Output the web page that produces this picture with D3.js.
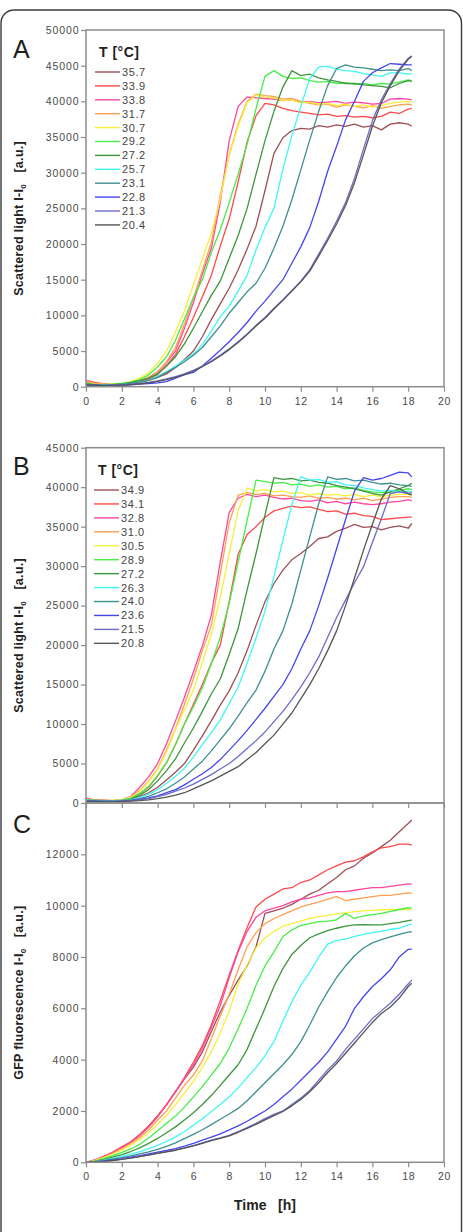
<!DOCTYPE html>
<html><head><meta charset="utf-8">
<script src="https://cdn.jsdelivr.net/npm/d3@7"></script>
<style>
body{margin:0;background:#fff;}
svg{display:block;}
text{font-family:Arial,"Liberation Sans",sans-serif;}
</style>
</head><body>
<svg id="chart" width="463" height="1232"></svg>
<script>
// ---------- DATA ----------
const time = [0,0.5,1,1.5,2,2.5,3,3.5,4,4.5,5,5.5,6,6.5,7,7.5,8,8.5,9,9.5,10,10.5,11,11.5,12,12.5,13,13.5,14,14.5,15,15.5,16,16.5,17,17.5,18,18.2];
const xTicks = [0,2,4,6,8,10,12,14,16,18,20];

// Panel A: scattered light
const tempsA = ["35.7","33.9","33.8","31.7","30.7","29.2","27.2","25.7","23.1","22.8","21.3","20.4"];
const yTicksA = [0,5000,10000,15000,20000,25000,30000,35000,40000,45000,50000];
const a357 = [300,250,200,250,300,450,650,900,1300,1800,2700,3800,5000,7000,9400,11600,13800,16400,19300,22500,27500,32700,34900,35900,36200,36100,36600,36400,36700,36500,36800,36400,36600,36000,36800,37000,36800,36500];
const a339 = [900,600,400,300,350,500,750,1100,1700,3000,4500,7000,9700,12600,15600,19700,23500,28700,34300,38000,39700,39500,39000,38700,38500,38300,38100,38200,37900,38000,37800,37900,37700,37900,38500,38300,38900,39000];
const a338 = [600,400,350,300,400,550,800,1300,2100,3400,5000,8200,11800,15800,19400,25800,34500,39300,40600,40500,40400,40300,40100,40200,39900,40000,39800,39900,40000,39700,39900,39800,39600,39700,40300,40400,40300,40200];
const a317 = [800,500,400,350,400,550,800,1300,2000,3500,5500,8800,12400,16300,20200,26800,32500,36800,40000,41000,40800,40700,40300,40400,40000,39700,39500,39600,39200,39500,39300,39100,39400,39000,39300,39500,39600,39500];
const a307 = [500,350,300,400,450,700,1200,1950,3300,5000,7700,10600,14300,17900,21500,26300,32400,36500,39800,40900,40600,40500,40100,40200,39800,39900,39600,39700,39400,39600,39300,39500,39200,39400,39700,39900,40000,39900];
const a292 = [500,300,300,350,450,650,1000,1650,2800,4200,6500,9500,12500,15000,18800,22000,25800,29800,34000,39000,43500,44300,43500,43200,43300,42900,42700,42800,42500,42600,42400,42500,42300,42500,42400,42700,43000,42900];
const a272 = [400,300,250,300,400,600,850,1200,1800,2900,4200,6000,8200,10500,12800,14800,18000,21200,25000,29800,34500,38600,42000,44300,43600,43800,43300,43000,42800,42500,42500,42300,42200,42100,41900,42500,42900,42800];
const a257 = [300,250,200,250,300,450,650,900,1500,2100,2900,3700,4600,5900,7800,9800,11300,13400,15600,19200,22300,25000,30500,35200,39300,43200,44800,44900,44500,44300,44200,43900,43700,43500,44000,44000,43800,43900];
const a231 = [300,250,200,250,300,450,650,900,1300,2000,2700,3500,4400,5500,7000,8500,10300,11800,13300,14500,16600,19400,22500,26200,30400,34600,38600,42200,44600,45100,44800,44700,44500,44300,44400,44300,44600,44300];
const a228 = [300,200,150,200,200,250,350,450,550,700,1200,1700,2000,2900,4000,5100,6300,7600,9000,10600,12000,13500,15000,17300,19600,22300,26000,30200,33700,37400,40000,42800,44000,44700,45300,45200,45100,45100];
const a213 = [200,150,150,200,250,350,450,600,800,1100,1400,1800,2300,2900,3600,4400,5300,6300,7400,8600,9700,11000,12200,13500,14800,16400,18600,20800,23200,25800,29200,33300,37300,40200,42500,44500,46000,46400];
const a204 = [250,200,150,150,200,300,400,550,750,1000,1300,1700,2200,2800,3500,4300,5200,6200,7300,8500,9600,10900,12100,13400,14700,16200,18300,20500,22800,25400,28600,32500,36500,39800,42200,44300,45900,46300];
const seriesA = [a357,a339,a338,a317,a307,a292,a272,a257,a231,a228,a213,a204];

// Panel B: scattered light
const tempsB = ["34.9","34.1","32.8","31.0","30.5","28.9","27.2","26.3","24.0","23.6","21.5","20.8"];
const yTicksB = [0,5000,10000,15000,20000,25000,30000,35000,40000,45000];
const b349 = [300,250,250,200,300,450,800,1300,2000,2900,3900,5000,6700,8500,10400,12400,14200,16500,19300,22500,25500,27800,29500,30800,31600,32500,33500,33700,34400,34800,35300,34900,35000,34600,34900,35100,34800,35400];
const b341 = [600,400,300,300,350,600,1200,2000,3400,5100,7400,10000,12500,15000,17700,20000,25500,31500,34000,35000,36200,37000,37300,37600,37400,37500,37200,36900,37000,36600,36700,36400,36300,35900,36000,36100,36200,36200];
const b328 = [300,400,350,300,400,800,2000,3300,5000,7500,10400,13400,16600,19900,23800,30500,36800,38600,39100,38800,39000,38700,38500,38600,38300,38200,38400,38000,38200,37900,38100,37900,37800,37900,38100,38200,38400,38300];
const b310 = [500,400,350,300,350,700,1600,2800,4300,6700,9400,12500,15700,19300,22500,29000,35500,39000,39300,39100,39200,38900,39000,38800,38700,38900,38600,38700,38500,38600,38400,38600,38300,38500,38700,38800,38800,38700];
const b305 = [400,300,300,350,400,700,1500,2700,4200,6500,9300,11800,14300,17800,21400,26000,31600,37000,39900,39500,39700,39400,39500,39200,39300,39000,39200,39000,39100,38900,39100,38800,39000,38800,39000,39100,39100,39000];
const b289 = [400,350,300,300,350,600,1200,2100,3500,5100,7400,10000,12200,14600,17600,21000,25300,30500,35800,40900,40700,40500,40600,40300,40400,40100,40300,40000,40100,39800,39900,39600,39400,39300,39400,39600,39800,39700];
const b272 = [400,300,300,250,300,500,1000,1700,2800,4100,5600,7600,9500,11600,13800,15700,18800,22100,27000,31600,36500,41200,41000,41100,40800,40900,40600,40500,40200,40000,39800,39500,39200,39000,39400,39800,40200,40500];
const b263 = [400,300,250,250,300,400,700,1100,1700,2500,3400,4400,5800,7400,8900,10500,12600,14700,17700,20900,24300,28700,33300,37800,41300,40900,41000,40600,40700,40300,40200,39900,39700,39500,39600,39400,39500,39400];
const b240 = [300,250,250,200,250,350,550,850,1300,1800,2500,3300,4300,5300,6600,8000,9400,11000,12700,14300,16700,19500,21800,25200,29500,33700,37900,41300,41000,41100,40800,40900,40600,40400,40500,40300,40200,40100];
const b236 = [300,250,200,200,250,300,450,650,900,1300,1700,2300,3000,3700,4500,5500,6700,7900,9200,10600,12000,13500,15000,17000,19500,21800,25000,28500,32200,35900,39500,41200,40900,41100,41500,41900,41800,41300];
const b215 = [300,200,200,200,250,300,400,550,800,1100,1500,1900,2400,3000,3600,4300,5000,5900,6900,7900,9000,10300,11600,13100,14700,16500,18500,21000,23500,25700,27900,29900,33000,36000,39200,39400,39200,39300];
const b208 = [200,200,150,150,200,250,300,400,550,750,1000,1300,1800,2300,2800,3400,4000,4600,5500,6400,7500,8600,10000,11400,13200,15000,17000,19300,21800,25000,28500,32000,35300,38500,40200,39800,39200,39000];
const seriesB = [b349,b341,b328,b310,b305,b289,b272,b263,b240,b236,b215,b208];

// Panel C: GFP fluorescence (same cultures as B)
const yTicksC = [0,2000,4000,6000,8000,10000,12000];
const c349 = [0,80,220,380,570,780,1050,1380,1780,2250,2750,3250,3700,4300,5100,5850,6500,7100,7650,8400,9700,9800,9900,10050,10250,10450,10600,10850,11100,11400,11550,11850,12050,12300,12550,12880,13200,13340];
const c341 = [0,90,230,400,600,800,1080,1420,1820,2250,2750,3300,3900,4550,5350,6300,7300,8250,9150,9950,10250,10450,10650,10700,10900,11000,11200,11400,11550,11700,11750,11900,12100,12250,12300,12400,12400,12360];
const c328 = [0,85,220,390,580,790,1050,1380,1780,2250,2750,3250,3800,4450,5250,6100,7200,8200,9000,9550,9800,9900,10000,10150,10250,10300,10400,10500,10550,10550,10600,10650,10700,10700,10750,10800,10850,10830];
const c310 = [0,75,200,350,530,730,960,1270,1650,2000,2500,3000,3400,3950,4800,5700,6550,7500,8400,8950,9300,9500,9650,9800,9950,10050,10150,10250,10350,10200,10250,10300,10350,10400,10400,10450,10500,10480];
const c305 = [0,65,180,320,480,670,890,1150,1480,1830,2250,2700,3150,3700,4300,5050,5900,6950,7700,8350,8750,9000,9200,9300,9400,9500,9570,9620,9680,9720,9770,9800,9820,9840,9850,9850,9860,9850];
const c289 = [0,50,140,260,390,520,700,950,1230,1520,1800,2150,2550,2950,3400,3850,4450,5200,6000,6900,7650,8200,8800,9050,9230,9300,9380,9400,9450,9700,9500,9600,9650,9700,9780,9850,9920,9900];
const c272 = [0,40,110,200,300,420,560,740,930,1150,1380,1650,1930,2250,2600,3000,3400,3800,4400,5200,6000,6850,7550,8100,8450,8750,8900,9030,9120,9200,9250,9260,9250,9250,9300,9350,9420,9440];
const c263 = [0,30,80,150,230,320,420,530,660,810,990,1200,1440,1700,1980,2250,2550,2900,3300,3700,4150,4700,5500,6250,6900,7400,8000,8500,8650,8700,8800,8880,8950,9000,9080,9120,9250,9280];
const c240 = [0,25,65,120,180,250,330,410,500,620,760,920,1090,1270,1470,1680,1880,2100,2400,2750,3100,3450,3800,4200,4700,5350,6050,6650,7200,7650,8050,8350,8550,8680,8780,8880,8970,8990];
const c236 = [0,20,50,90,140,200,260,330,400,460,530,630,740,860,980,1110,1260,1420,1600,1800,2000,2250,2550,2850,3200,3550,3900,4300,4800,5300,6000,6450,6850,7150,7500,8000,8300,8310];
const c215 = [0,15,40,75,120,170,230,290,360,420,480,560,650,760,860,950,1050,1200,1350,1520,1700,1870,2000,2250,2500,2800,3200,3600,3950,4400,4800,5200,5600,5900,6200,6550,6950,7100];
const c208 = [0,15,35,70,110,160,220,280,350,410,470,550,640,740,840,930,1030,1170,1320,1480,1650,1820,1980,2200,2450,2750,3100,3500,3850,4250,4650,5050,5450,5800,6050,6400,6850,6975];
const seriesC = [c349,c341,c328,c310,c305,c289,c272,c263,c240,c236,c215,c208];

// ---------- STYLE ----------
const colors = ["#a04e55","#ff4848","#ff45a0","#ffa050","#f6f03c","#46ee46","#3c963c","#40f6f6","#3f8f8f","#4545f0","#6b6bcc","#555555"];
const ink = "#333";
const tickInk = "#4a4a4a";
const boxInk = "#8c8c8c";

const svg = d3.select("#chart");
const x = d3.scaleLinear().domain([0,20]).range([86,444]);

// outer rounded frame
svg.append("rect").attr("x",1).attr("y",10).attr("width",460.5).attr("height",1240)
  .attr("rx",13).attr("fill","none").attr("stroke","#3a3a3a").attr("stroke-width",1.4);

function panel(cfg){
  const y = d3.scaleLinear().domain([0,cfg.yMax]).range([cfg.bottom,cfg.top]);
  const g = svg.append("g");
  // y axis
  const ya = g.append("g").attr("transform","translate(86,0)")
    .call(d3.axisLeft(y).tickValues(cfg.yTicks).tickSize(5).tickPadding(1.5).tickFormat(d3.format("d")));
  ya.select(".domain").remove();
  ya.selectAll("line").attr("stroke",boxInk).attr("stroke-width",1.2);
  ya.selectAll("text").attr("fill",tickInk).style("font-size","10.5px").style("letter-spacing","0.9px");
  // x axis
  const xa = g.append("g").attr("transform",`translate(0,${cfg.bottom})`)
    .call(d3.axisBottom(x).tickValues(xTicks).tickSize(5).tickPadding(cfg.xPad)
      .tickFormat(cfg.xLabels ? d3.format("d") : ""));
  xa.select(".domain").remove();
  xa.selectAll("line").attr("stroke",boxInk).attr("stroke-width",1.2);
  xa.selectAll("text").attr("fill",tickInk).style("font-size","10.5px").style("letter-spacing","0.6px");

  // lines
  const line = d3.line().x((d,i)=>x(time[i])).y(d=>y(d));
  cfg.series.forEach((s,i)=>{
    g.append("path").datum(s).attr("d",line).attr("fill","none")
      .attr("stroke",colors[i]).attr("stroke-width",1.3).attr("stroke-linejoin","round");
  });
  // box
  g.append("rect").attr("x",86).attr("y",cfg.top).attr("width",358).attr("height",cfg.bottom-cfg.top)
    .attr("fill","none").attr("stroke",boxInk).attr("stroke-width",1.5);

  // legend
  if(cfg.temps){
    g.append("text").attr("x",cfg.legX).attr("y",cfg.legTitleY).text("T [°C]")
      .attr("fill","#222").style("font-size","14px").style("font-weight","bold").style("letter-spacing","0.5px");
    cfg.temps.forEach((t,i)=>{
      const yy = cfg.legY0 + i*cfg.legDy;
      g.append("line").attr("x1",cfg.legX-4).attr("x2",cfg.legX+21).attr("y1",yy).attr("y2",yy)
        .attr("stroke",colors[i]).attr("stroke-width",1.4);
      g.append("text").attr("x",cfg.legX+23).attr("y",yy).attr("dy","0.36em").text(t)
        .attr("fill","#444").style("font-size","11px").style("letter-spacing","0.6px");
    });
  }
  // panel letter
  svg.append("text").attr("x",13).attr("y",cfg.letterY).text(cfg.letter)
    .attr("fill","#1e1e1e").style("font-size","25px");
  // y label
  const cy = (cfg.top+cfg.bottom)/2 + 10;
  const yl = svg.append("text").attr("transform",`translate(23,${cy}) rotate(-90)`)
    .attr("text-anchor","middle").attr("fill","#222")
    .style("font-size","12.5px").style("font-weight","bold").style("letter-spacing","0.3px");
  yl.append("tspan").text(cfg.ylabel + " I-I");
  yl.append("tspan").text("0").style("font-size","8px").attr("dy","3");
  yl.append("tspan").text("\u00a0\u00a0\u00a0[a.u.]").attr("dy","-3");
}

panel({top:30,bottom:386.7,yMax:50000,yTicks:yTicksA,series:seriesA,temps:tempsA,
  legX:99,legTitleY:57,legY0:72,legDy:13.9,letter:"A",letterY:58,ylabel:"Scattered light",xLabels:true,xPad:6});
panel({top:447.7,bottom:803,yMax:45000,yTicks:yTicksB,series:seriesB,temps:tempsB,
  legX:98,legTitleY:475,legY0:490,legDy:13.94,letter:"B",letterY:475,ylabel:"Scattered light",xLabels:false,xPad:6});
panel({top:803,bottom:1162.3,yMax:14000,yTicks:yTicksC,series:seriesC,temps:null,
  letter:"C",letterY:833,ylabel:"GFP fluorescence",xLabels:true,xPad:5});

svg.append("text").attr("x",265).attr("y",1210).attr("text-anchor","middle")
  .attr("fill","#222").style("font-size","14px").style("font-weight","bold")
  .text("Time\u00a0\u00a0\u00a0[h]");
</script>
</body></html>
